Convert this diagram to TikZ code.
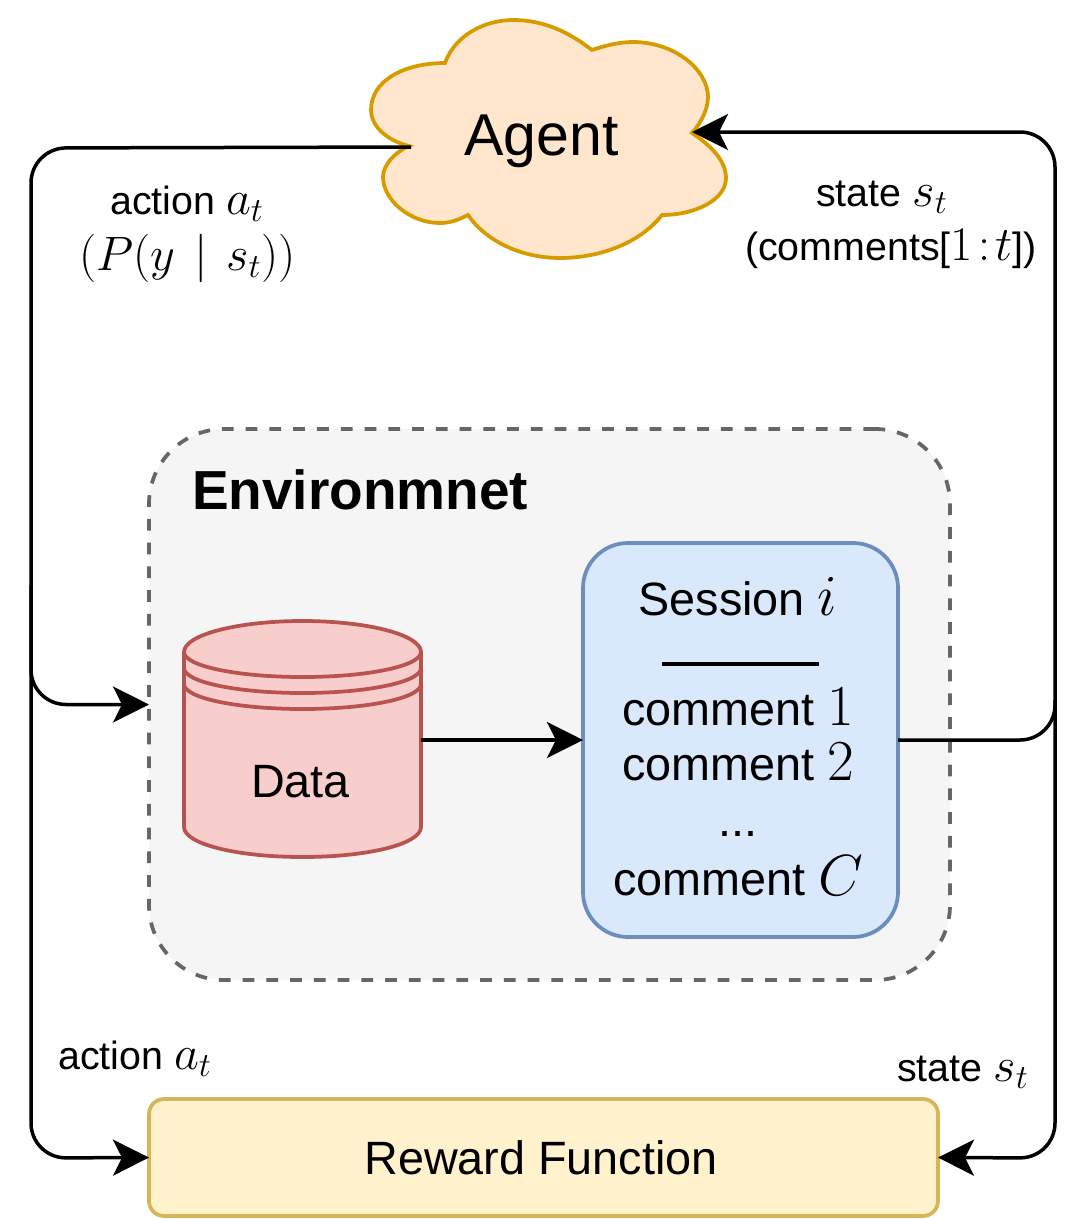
\documentclass[tikz,border=0pt]{standalone}
\usepackage{fix-cm}
\usepackage{fontspec}
\setmainfont{Liberation Sans}
\usetikzlibrary{positioning, arrows.meta}

\definecolor{cloudfill}{HTML}{FFE6CC}
\definecolor{clouddraw}{HTML}{D79B00}
\definecolor{envfill}{HTML}{F5F5F5}
\definecolor{envdraw}{HTML}{666666}
\definecolor{dbfill}{HTML}{F8CECC}
\definecolor{dbdraw}{HTML}{B85450}
\definecolor{sessfill}{HTML}{DAE8FC}
\definecolor{sessdraw}{HTML}{6C8EBF}
\definecolor{rewfill}{HTML}{FFF2CC}
\definecolor{rewdraw}{HTML}{D6B656}

% math is set larger than the text around it
\newcommand{\lblmath}[1]{{\fontsize{27.5}{32}\selectfont$#1$}}
\newcommand{\bodymath}[1]{{\fontsize{33}{38}\selectfont$#1$}}

\begin{document}
\begin{tikzpicture}[
    x=0.2mm, y=-0.2mm,
    every node/.style={inner sep=0pt, outer sep=0pt},
    lbl/.style={font=\fontsize{22.4}{27}\selectfont, anchor=base},
    body/.style={font=\fontsize{26.6}{32}\selectfont, anchor=base},
    envbox/.style={rectangle, rounded corners=15mm, draw=envdraw, fill=envfill, line width=0.75mm, dash pattern=on 2.35mm off 2.4mm, minimum width=160.2mm, minimum height=110.2mm},
    sessbox/.style={rectangle, rounded corners=9mm, draw=sessdraw, fill=sessfill, line width=0.75mm, minimum width=63mm, minimum height=78.8mm},
    rewbox/.style={rectangle, rounded corners=3mm, draw=rewdraw, fill=rewfill, line width=0.75mm, minimum width=157.8mm, minimum height=23.4mm, font=\fontsize{26.6}{32}\selectfont},
    dbshape/.style={draw=dbdraw, fill=dbfill, line width=0.75mm},
    arrow/.style={-{Stealth[length=7.2mm, width=7.2mm, inset=1.8mm]}, line width=0.7mm, rounded corners=7mm},
]
\useasboundingbox (0,0) rectangle (1091,1219);

% Agent cloud
\draw[draw=clouddraw, fill=cloudfill, line width=0.75mm]
    (409,146) .. controls (385,140) and (371,125) .. (371,110)
    .. controls (371,80) and (405,63) .. (445,63)
    .. controls (455,35) and (485,20) .. (513,20)
    .. controls (545,20) and (570,33) .. (592,50)
    .. controls (607,45) and (620,42) .. (633,42)
    .. controls (675,42) and (708,70) .. (708,97)
    .. controls (708,108) and (702,122) .. (692,133)
    .. controls (710,145) and (726,160) .. (726,178)
    .. controls (726,200) and (695,215) .. (662,215)
    .. controls (640,243) and (600,258) .. (560,258)
    .. controls (520,258) and (485,240) .. (468,215)
    .. controls (458,220) and (450,223) .. (440,223)
    .. controls (410,223) and (383,200) .. (383,177)
    .. controls (383,165) and (395,152) .. (409,146) -- cycle;
\node[font=\fontsize{33.6}{40}\selectfont, anchor=base] (agent) at (541.5,155) {Agent};
\coordinate (agentout) at (411,147);
\coordinate (agentin) at (692,132);

% Environment
\node[envbox] (env) at (549.5,704.5) {};
\node[font=\bfseries\fontsize{31.3}{37}\selectfont, anchor=base west] (envtitle) at (192,509) {Environmnet};

% Data cylinder
\draw[dbshape] (184,652) .. controls (184,635) and (237,621) .. (302.5,621)
    .. controls (368,621) and (421,635) .. (421,652) -- (421,827)
    .. controls (421,844) and (368,857) .. (302.5,857)
    .. controls (237,857) and (184,844) .. (184,827) -- cycle;
\foreach \rimy in {652,668,684}
    \draw[dbshape, fill=none] (184,\rimy) .. controls (184,\rimy+14) and (237,\rimy+25) .. (302.5,\rimy+25)
        .. controls (368,\rimy+25) and (421,\rimy+14) .. (421,\rimy);
\node[minimum width=47.4mm, minimum height=47.2mm] (data) at (302.5,739.5) {};
\node[body] (datatext) at (300.5,797) {Data};

% Session
\node[sessbox] (session) at (740.5,740) {};
\node[body] (sesstitle) at (738,615) {Session \bodymath{i}};
\draw[line width=0.7mm] (662,664) -- (819,664);
\node[body] (comment1) at (738,725) {comment \bodymath{1}};
\node[body] (comment2) at (738,780) {comment \bodymath{2}};
\node[body] (commentdots) at (738,836) {...};
\node[body] (commentc) at (738,895) {comment \bodymath{C}};

% Reward Function
\node[rewbox] (reward) at (543.5,1157.5) {Reward Function\kern1mm\relax};

% Arrows
\coordinate (leftstart) at (31,585);
\coordinate (rightstart) at (1055,700);
\draw[arrow] (agentout) -- (31,148) -- (31,1158) -- (reward.west);
\draw[arrow] (leftstart) -- (31,704.5) -- (env.west);
\draw[arrow] (session.east) -- (1055,740) -- (1055,132) -- (agentin);
\draw[arrow] (rightstart) -- (1055,1158) -- (reward.east);
\draw[arrow] (data.east |- session.east) -- (session.west);

% Labels
\node[lbl] (actionlbl) at (187,214) {action \lblmath{a_t}};
\node[lbl] (policylbl) at (187.5,270) {\lblmath{\bigl(P(y\mkern2mu\mid\mkern2mu s_t)\bigr)}};
\node[lbl] (statelbl) at (882,206) {state \lblmath{s_t}};
\node[lbl] (commentslbl) at (891,260) {(comments[\lblmath{1\!:\!t}])};
\node[lbl] (actionlow) at (135,1069) {action \lblmath{a_t}};
\node[lbl] (statelow) at (963,1081) {state \lblmath{s_t}};
\end{tikzpicture}
\end{document}
